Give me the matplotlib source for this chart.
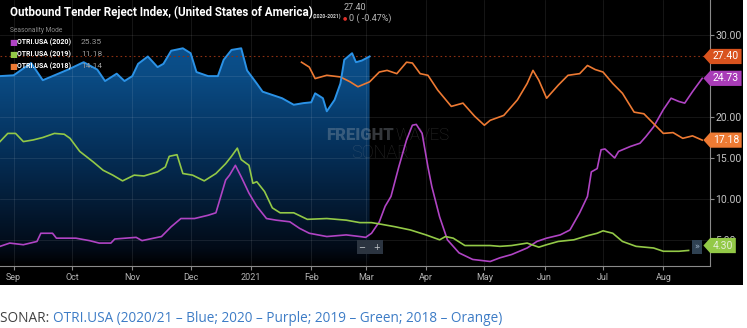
import numpy as np
import matplotlib
matplotlib.use('Agg')
import matplotlib.pyplot as plt
import matplotlib.dates as mdates
import matplotlib.ticker as mticker
from matplotlib.colors import LinearSegmentedColormap
from matplotlib.patches import Rectangle
from matplotlib.path import Path
from matplotlib import font_manager, transforms

# ---- data (seasonality mode, all on a 2020/21 axis) ----
blue_dates = ['2020-08-25', '2020-09-01', '2020-09-10', '2020-09-16', '2020-09-22', '2020-09-29',
              '2020-10-07', '2020-10-14', '2020-10-18', '2020-10-24', '2020-10-28', '2020-11-01',
              '2020-11-04', '2020-11-09', '2020-11-14', '2020-11-17', '2020-11-21', '2020-11-27',
              '2020-12-01', '2020-12-04', '2020-12-10', '2020-12-15', '2020-12-18', '2020-12-22',
              '2020-12-27', '2020-12-30', '2021-01-04', '2021-01-07', '2021-01-12', '2021-01-17',
              '2021-01-23', '2021-01-28', '2021-02-01', '2021-02-03', '2021-02-07', '2021-02-09',
              '2021-02-13', '2021-02-16', '2021-02-18', '2021-02-22', '2021-02-24', '2021-02-27',
              '2021-03-03']
blue_vals = [25.0, 25.1, 26.6, 24.5, 25.1, 25.8, 26.7, 25.8, 24.4, 25.3, 24.4, 25.0, 26.5, 27.4,
             26.1, 26.5, 28.1, 28.4, 27.8, 25.5, 25.0, 25.0, 27.0, 28.2, 28.4, 25.7, 24.1, 23.1,
             22.7, 22.3, 21.5, 21.7, 21.8, 22.9, 22.3, 20.7, 22.1, 24.1, 27.0, 27.8, 26.7, 26.9,
             27.4]

purple_dates = ['2020-08-25', '2020-08-30', '2020-09-06', '2020-09-13', '2020-09-15', '2020-09-21',
                '2020-09-23', '2020-10-03', '2020-10-10', '2020-10-15', '2020-10-21', '2020-10-23',
                '2020-11-03', '2020-11-06', '2020-11-16', '2020-11-21', '2020-11-26', '2020-12-03',
                '2020-12-10', '2020-12-14', '2020-12-19', '2020-12-21', '2020-12-24', '2020-12-27',
                '2020-12-31', '2021-01-04', '2021-01-09', '2021-01-14', '2021-01-21', '2021-01-26',
                '2021-01-31', '2021-02-09', '2021-02-19', '2021-02-26', '2021-03-01', '2021-03-04',
                '2021-03-08', '2021-03-11', '2021-03-14', '2021-03-18', '2021-03-22', '2021-03-25',
                '2021-03-27', '2021-03-30', '2021-04-02', '2021-04-04', '2021-04-08', '2021-04-12',
                '2021-04-18', '2021-04-25', '2021-05-04', '2021-05-09', '2021-05-15', '2021-05-23',
                '2021-05-28', '2021-06-02', '2021-06-09', '2021-06-14', '2021-06-19', '2021-06-23',
                '2021-06-25', '2021-06-28', '2021-06-30', '2021-07-02', '2021-07-07', '2021-07-09',
                '2021-07-15', '2021-07-20', '2021-07-23', '2021-07-27', '2021-08-01', '2021-08-05',
                '2021-08-09', '2021-08-12', '2021-08-16', '2021-08-21']
purple_vals = [4.2, 4.6, 4.4, 4.8, 5.8, 5.8, 5.2, 5.2, 4.9, 4.6, 4.6, 5.1, 5.3, 4.9, 5.4, 6.6,
               7.6, 7.6, 8.0, 8.3, 12.3, 12.9, 14.1, 12.7, 10.7, 9.1, 7.6, 7.4, 7.2, 6.4, 5.8,
               5.4, 5.6, 5.4, 5.3, 5.8, 7.2, 9.1, 10.3, 13.9, 17.2, 19.0, 19.1, 18.0, 13.9, 11.5,
               7.8, 5.0, 3.4, 2.6, 2.35, 2.8, 3.2, 4.0, 4.8, 5.2, 5.6, 6.2, 8.3, 10.3, 13.3, 13.7,
               16.0, 16.1, 15.0, 15.8, 16.4, 16.8, 17.6, 18.8, 20.9, 22.3, 21.9, 21.7, 23.1, 24.73]

green_dates = ['2020-08-25', '2020-08-29', '2020-09-02', '2020-09-06', '2020-09-11', '2020-09-16',
               '2020-09-22', '2020-09-27', '2020-09-30', '2020-10-05', '2020-10-12', '2020-10-17',
               '2020-10-22', '2020-10-27', '2020-11-02', '2020-11-07', '2020-11-14', '2020-11-18',
               '2020-11-20', '2020-11-24', '2020-11-27', '2020-12-02', '2020-12-08', '2020-12-14',
               '2020-12-19', '2020-12-22', '2020-12-25', '2020-12-27', '2020-12-31', '2021-01-02',
               '2021-01-04', '2021-01-08', '2021-01-12', '2021-01-16', '2021-01-23', '2021-01-30',
               '2021-02-09', '2021-02-19', '2021-02-26', '2021-03-04', '2021-03-09', '2021-03-16',
               '2021-03-24', '2021-04-01', '2021-04-08', '2021-04-11', '2021-04-15', '2021-04-21',
               '2021-05-04', '2021-05-09', '2021-05-15', '2021-05-23', '2021-05-29', '2021-06-02',
               '2021-06-08', '2021-06-16', '2021-06-23', '2021-06-28', '2021-07-01', '2021-07-06',
               '2021-07-11', '2021-07-18', '2021-07-27', '2021-08-01', '2021-08-09', '2021-08-14']
green_vals = [17.0, 18.0, 18.0, 17.0, 17.2, 17.5, 18.0, 17.9, 17.4, 15.8, 14.5, 13.5, 12.9, 12.2,
              12.9, 12.8, 13.3, 13.9, 15.2, 15.4, 13.1, 12.9, 12.2, 13.1, 14.3, 15.2, 16.2, 14.8,
              14.1, 11.9, 12.1, 10.9, 8.9, 8.3, 8.3, 7.5, 7.6, 7.4, 7.1, 7.1, 6.9, 6.6, 6.2, 5.6,
              5.0, 5.4, 5.2, 4.3, 4.3, 4.2, 4.3, 4.6, 4.1, 4.4, 4.8, 5.0, 5.5, 5.8, 6.1, 5.8, 4.8,
              4.2, 4.0, 3.6, 3.6, 3.7]

orange_dates = ['2021-01-27', '2021-01-31', '2021-02-03', '2021-02-09', '2021-02-16', '2021-02-21',
                '2021-02-25', '2021-03-03', '2021-03-08', '2021-03-12', '2021-03-17', '2021-03-22',
                '2021-03-25', '2021-03-29', '2021-04-02', '2021-04-07', '2021-04-14', '2021-04-20',
                '2021-04-26', '2021-05-01', '2021-05-04', '2021-05-11', '2021-05-18', '2021-05-23',
                '2021-05-26', '2021-05-29', '2021-06-02', '2021-06-08', '2021-06-13', '2021-06-19',
                '2021-06-23', '2021-06-27', '2021-07-01', '2021-07-06', '2021-07-11', '2021-07-17',
                '2021-07-22', '2021-07-27', '2021-08-01', '2021-08-06', '2021-08-11', '2021-08-16',
                '2021-08-21']
orange_vals = [26.7, 26.1, 24.7, 25.1, 24.9, 24.3, 23.7, 24.3, 25.5, 25.7, 25.3, 26.7, 26.6, 25.3,
               25.1, 23.3, 21.3, 21.7, 20.1, 19.0, 19.6, 20.2, 22.1, 24.1, 25.7, 24.5, 22.3, 23.9,
               25.1, 25.3, 26.3, 25.8, 25.5, 24.1, 22.9, 20.6, 20.4, 19.2, 18.0, 18.1, 17.4, 17.7,
               17.18]

legend_names = ['OTRI.USA (2020)', 'OTRI.USA (2019)', 'OTRI.USA (2018)']
legend_values = ['25.35', '11.18', '14.14']
last_values = [27.40, 24.73, 17.18, 4.30]   # blue(2020/21), purple, orange, green tags
y_ticks = [5, 10, 15, 20, 25, 30]

C_BLUE = '#2b92e6'
C_PURPLE = '#b044c4'
C_GREEN = '#93c947'
C_ORANGE = '#ee7a33'
C_RED = '#d9531e'

W, H = 747, 328
names = {f.name for f in font_manager.fontManager.ttflist}
title_family = 'Liberation Sans Narrow' if 'Liberation Sans Narrow' in names else 'Roboto'
plt.rcParams['font.family'] = ['Roboto', 'DejaVu Sans']


def px(x, y):
    return x / W, 1 - y / H


fig = plt.figure(figsize=(W / 100, H / 100), dpi=100, facecolor='white')
# dark panel behind the chart
fig.patches.append(Rectangle((0, 1 - 285 / H), 743 / W, 285 / H, transform=fig.transFigure,
                             facecolor='black', edgecolor='none', zorder=-5))

ax = fig.add_axes([0, 1 - 266 / H, 710 / W, 266 / H])
ax.set_facecolor('black')

bd = np.array(blue_dates, dtype='datetime64[D]')
pdt = np.array(purple_dates, dtype='datetime64[D]')
gd = np.array(green_dates, dtype='datetime64[D]')
od = np.array(orange_dates, dtype='datetime64[D]')

x0, x1 = np.datetime64('2020-08-25'), np.datetime64('2021-08-25')
y0, y1 = 1.8, 34.3

# gradient fill under the 2020/21 curve
cmap = LinearSegmentedColormap.from_list('sonar', [(0, '#000000'), (0.06, '#020a16'),
                                                   (0.44, '#05305a'), (0.7, '#0a4a82'),
                                                   (1.0, '#0e5a9c')])
grad = np.linspace(1, 0, 256).reshape(-1, 1)
img = ax.imshow(grad, cmap=cmap, aspect='auto', origin='upper', zorder=1,
                extent=[mdates.date2num(x0), mdates.date2num(bd[-1]), y0, y1])
poly = ax.fill_between(bd, blue_vals, y0, color='none', lw=0)
img.set_clip_path(poly.get_paths()[0], transform=ax.transData)

ax.axhline(last_values[0], color='#8a2f12', lw=0.8, ls=(0, (1.5, 2.5)), zorder=1.6)

# watermark, under the lines
ax.text(*px(394, 135), 'FREIGHT', transform=fig.transFigure, color='#a0aab4', alpha=0.33,
        weight='black', fontsize=12, ha='right', va='center', zorder=1.7)
ax.text(*px(395, 135), 'WAVES', transform=fig.transFigure, color='#a0a0a0', alpha=0.28,
        weight='light', fontsize=12, ha='left', va='center', zorder=1.7)
ax.text(*px(380, 153), 'SONAR', transform=fig.transFigure, color='#a0a0a0', alpha=0.26,
        weight='light', fontsize=13, ha='center', va='center', zorder=1.7)

ax.plot(pdt, purple_vals, color=C_PURPLE, lw=1.2, zorder=3)
ax.plot(gd, green_vals, color=C_GREEN, lw=1.2, zorder=3)
ax.plot(od, orange_vals, color=C_ORANGE, lw=1.2, zorder=3)
ax.plot(bd, blue_vals, color=C_BLUE, lw=1.4, zorder=4)

ax.set_xlim(x0, x1)
ax.set_ylim(y0, y1)

ax.xaxis.set_major_locator(mdates.MonthLocator())
ax.xaxis.set_major_formatter(mticker.FuncFormatter(
    lambda v, p: mdates.num2date(v).strftime('%Y' if mdates.num2date(v).month == 1 else '%b')))
ax.yaxis.tick_right()
ax.set_yticks(y_ticks)
ax.set_yticklabels(['' if t == 25 else f'{t:.2f}' for t in y_ticks])
ax.tick_params(axis='x', colors='#8a8a8a', labelcolor='#b4b4b4', labelsize=6.5, length=3, pad=2)
ax.tick_params(axis='y', colors='#8a8a8a', labelcolor='#c4c4c4', labelsize=7.5, length=3, pad=1)
ax.grid(True, color='white', alpha=0.1, lw=0.6)
ax.set_axisbelow('line')
for s in ['top', 'left']:
    ax.spines[s].set_visible(False)
for s in ['bottom', 'right']:
    ax.spines[s].set_color('#8a8a8a')
    ax.spines[s].set_linewidth(0.8)


# value tags on the right axis
def tag_shape(x0, y0, width, height, mutation_size):
    pad = 0.25 * mutation_size
    x0, y0 = x0 - pad, y0 - pad
    xr, yt = x0 + width + 2 * pad, y0 + height + 2 * pad
    tip = 0.45 * (yt - y0)
    return Path([(x0, y0), (xr, y0), (xr, yt), (x0, yt), (x0 - tip, (y0 + yt) / 2), (x0, y0)],
                closed=True)


trans = transforms.blended_transform_factory(ax.transAxes, ax.transData)
tag_colors = [C_RED, '#a93cb8', C_ORANGE, C_GREEN]
tag_text = ['white', 'white', 'white', '#e4eed8']
for v, fc, tc in zip(last_values, tag_colors, tag_text):
    ax.text(1.004, v, f'{v:.2f}', transform=trans, ha='left', va='center', fontsize=7.5,
            color=tc, clip_on=False, zorder=10,
            bbox=dict(boxstyle=tag_shape, facecolor=fc, edgecolor='none'))

# title block
renderer = fig.canvas.get_renderer()
title = fig.text(*px(10, 12), 'Outbound Tender Reject Index, (United States of America)',
                 family=[title_family, 'DejaVu Sans'], weight='bold', color='white',
                 fontsize=12, va='center', ha='left')
title.set_fontsize(12 * 302 / title.get_window_extent(renderer).width)
fig.text(*px(313, 16), '(2020-2021)', weight='bold', color='#d0d0d0', fontsize=3.6, va='center')
fig.text(*px(344, 7), '27.40', color='#b8b8b8', fontsize=6.5, va='center')
fig.text(*px(343, 18), '●', color='#e0302a', fontsize=3.5, va='center', family='DejaVu Sans')
fig.text(*px(349, 18), '0 ( -0.47%)', color='#b8b8b8', fontsize=6.5, va='center')

# legend
fig.text(*px(10, 31), 'Seasonality Mode', color='#8a8a8a', fontsize=4.8, va='center')
for i, (nm, val, c) in enumerate(zip(legend_names, legend_values, [C_PURPLE, C_GREEN, C_ORANGE])):
    yy = 42 + 12 * i
    fig.text(*px(9, yy), '■', color=c, fontsize=6, va='center', family='DejaVu Sans')
    fig.text(*px(17, yy), nm, color='white', weight='bold', fontsize=5, va='center')
    fig.text(*px(81, yy), val, color='#9a9a9a', fontsize=6, va='center')

# zoom controls
fig.text(*px(370, 247), '−   +', color='#c8ccd0', fontsize=6, ha='center', va='center',
         family='DejaVu Sans', bbox=dict(boxstyle='square,pad=0.3', facecolor='#2b3440',
                                         edgecolor='none'))
fig.text(*px(697, 247), '»', color='#9fb3c8', fontsize=6, ha='center', va='center',
         family='DejaVu Sans', bbox=dict(boxstyle='square,pad=0.3', facecolor='#2f4152',
                                         edgecolor='none'))

# caption under the chart
cap1 = fig.text(*px(0, 318), 'SONAR: ', color='#404040', fontsize=8.5, family='Open Sans',
                va='center', ha='left')
cap2 = ax.annotate('OTRI.USA (2020/21 – Blue; 2020 – Purple; 2019 – Green; 2018 – Orange)',
                   xy=(1, 0), xycoords=cap1, va='bottom', ha='left', color='#3d7cc6',
                   fontsize=8.5, family='Open Sans', annotation_clip=False)
total = cap2.get_window_extent(renderer).x1
for t in (cap1, cap2):
    t.set_fontsize(8.5 * 503 / total)

fig.savefig('out.png', dpi=100, facecolor='white')
